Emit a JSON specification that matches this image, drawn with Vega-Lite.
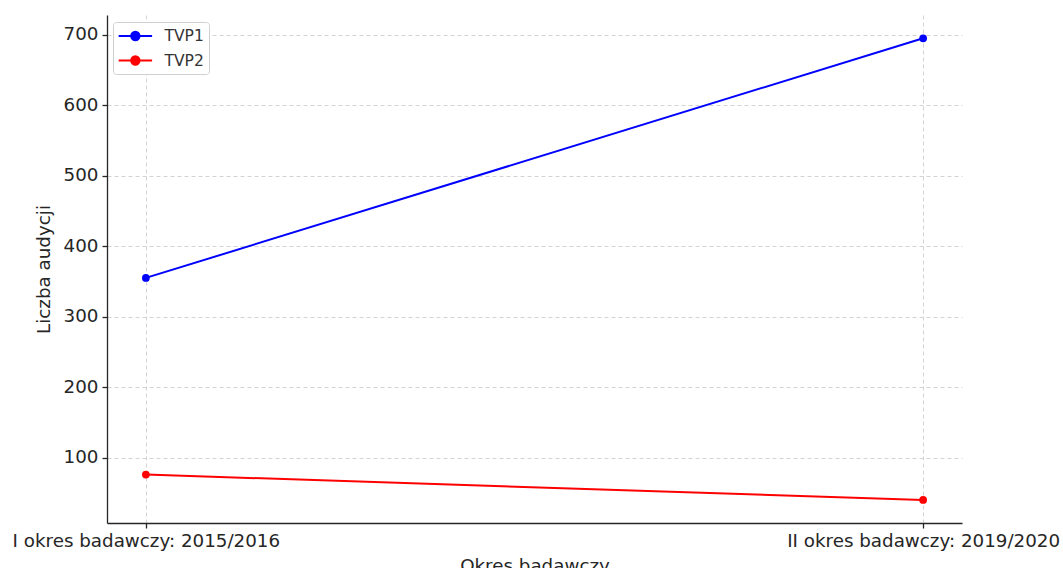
{
  "$schema": "https://vega.github.io/schema/vega-lite/v6.json",
  "autosize": {"type": "none"},
  "padding": {"left": 107, "top": 15, "right": 101, "bottom": 45},
  "width": 855,
  "height": 508,
  "background": "white",
  "data": {
    "values": [
      {"okres": "I okres badawczy: 2015/2016", "kanal": "TVP1", "liczba": 355},
      {"okres": "II okres badawczy: 2019/2020", "kanal": "TVP1", "liczba": 695},
      {"okres": "I okres badawczy: 2015/2016", "kanal": "TVP2", "liczba": 76},
      {"okres": "II okres badawczy: 2019/2020", "kanal": "TVP2", "liczba": 40}
    ]
  },
  "config": {
    "font": "DejaVu Sans",
    "view": {"stroke": null},
    "axis": {
      "labelFont": "DejaVu Sans",
      "titleFont": "DejaVu Sans",
      "labelFontSize": 18.3,
      "titleFontSize": 18.3,
      "labelColor": "#262626",
      "titleColor": "#262626",
      "titleFontWeight": "normal",
      "labelLimit": 0,
      "domainColor": "#262626",
      "domainWidth": 1.3,
      "tickColor": "#262626",
      "tickWidth": 1.3,
      "tickSize": 5,
      "gridColor": "#c8c8c8",
      "gridDash": [4, 3],
      "gridWidth": 0.8
    }
  },
  "encoding": {
    "x": {
      "field": "okres",
      "type": "nominal",
      "sort": null,
      "scale": {"type": "point", "padding": 0.05},
      "axis": {
        "title": "Okres badawczy",
        "labelAngle": 0,
        "labelOverlap": false,
        "labelPadding": 4,
        "titlePadding": 8,
        "grid": true
      }
    },
    "y": {
      "field": "liczba",
      "type": "quantitative",
      "scale": {"domain": [7.3, 728], "nice": false, "zero": false},
      "axis": {
        "title": "Liczba audycji",
        "values": [100, 200, 300, 400, 500, 600, 700],
        "labelPadding": 4,
        "titlePadding": 10,
        "grid": true
      }
    },
    "color": {
      "field": "kanal",
      "type": "nominal",
      "scale": {"domain": ["TVP1", "TVP2"], "range": ["#0000ff", "#ff0000"]},
      "legend": {
        "title": null,
        "orient": "none",
        "legendX": 6,
        "legendY": 7,
        "strokeColor": "#d0d0d0",
        "fillColor": "white",
        "cornerRadius": 3,
        "padding": 4.5,
        "labelFont": "DejaVu Sans",
        "labelFontSize": 15.5,
        "labelColor": "#333333",
        "symbolType": "M -1 0 L 3 0 M 1.5 0 A 0.5 0.5 0 1 1 0.5 0 A 0.5 0.5 0 1 1 1.5 0",
        "symbolSize": 280,
        "symbolStrokeWidth": 2,
        "rowPadding": 6.5,
        "labelOffset": 28
      }
    }
  },
  "layer": [
    {"mark": {"type": "line", "strokeWidth": 2}},
    {"mark": {"type": "point", "filled": true, "size": 60, "opacity": 1}}
  ]
}
